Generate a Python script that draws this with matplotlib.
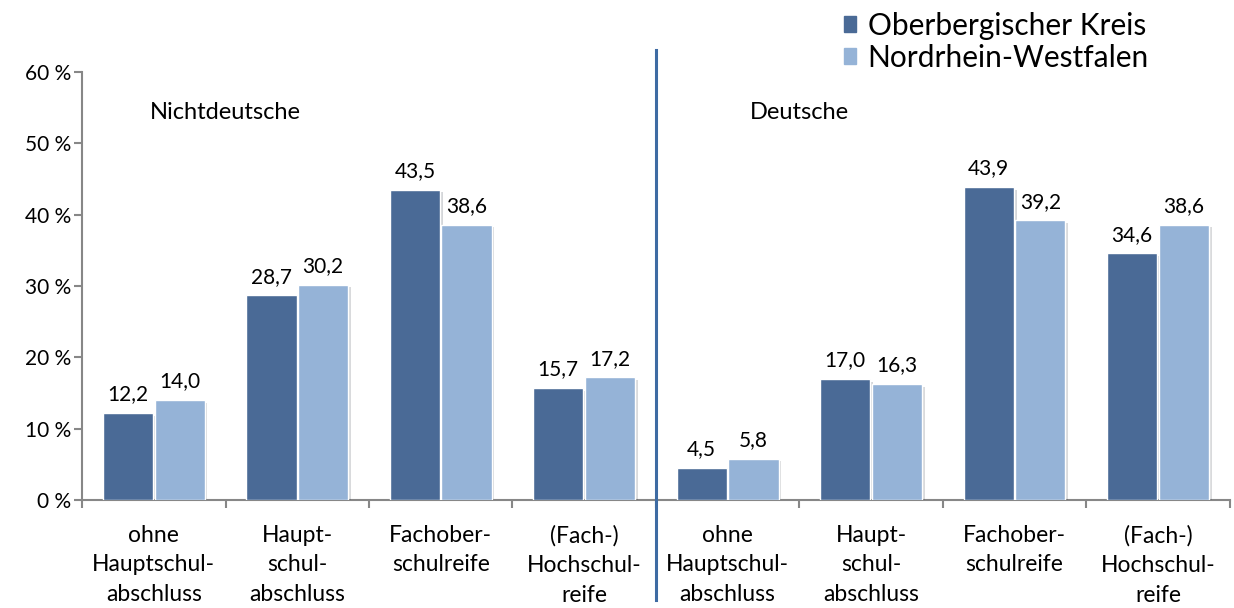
import numpy as np
import matplotlib
matplotlib.use("Agg")
import matplotlib.pyplot as plt
import matplotlib.patheffects as pe
from matplotlib.patches import Patch

plt.rcParams['font.family'] = ['Lato', 'DejaVu Sans']

# Daten
kategorien = ["ohne\nHauptschul-\nabschluss", "Haupt-\nschul-\nabschluss",
              "Fachober-\nschulreife", "(Fach-)\nHochschul-\nreife"] * 2
oberberg = [12.2, 28.7, 43.5, 15.7, 4.5, 17.0, 43.9, 34.6]
nrw = [14.0, 30.2, 38.6, 17.2, 5.8, 16.3, 39.2, 38.6]
serien = ["Oberbergischer Kreis", "Nordrhein-Westfalen"]
gruppen = ["Nichtdeutsche", "Deutsche"]
yticks = [0, 10, 20, 30, 40, 50, 60]

dunkel = "#4a6a96"
hell = "#95b3d7"
grau = "#878787"

fig = plt.figure(figsize=(12.34, 6.08), dpi=100)
ax = fig.add_axes([0.0665, 0.1776, 0.93, 0.704])

x = np.arange(len(kategorien))
w = 0.35
schatten = [pe.SimplePatchShadow(offset=(2, -2), alpha=0.18), pe.Normal()]
b1 = ax.bar(x - 0.18, oberberg, w, color=dunkel, edgecolor="white", linewidth=1, zorder=3)
b2 = ax.bar(x + 0.18, nrw, w, color=hell, edgecolor="white", linewidth=1, zorder=3)
for b in list(b1) + list(b2):
    b.set_path_effects(schatten)

for xi, v in zip(x - 0.18, oberberg):
    ax.text(xi, v + 1.2, f"{v:.1f}".replace(".", ","), ha="center", va="bottom", fontsize=15)
for xi, v in zip(x + 0.18, nrw):
    ax.text(xi, v + 1.2, f"{v:.1f}".replace(".", ","), ha="center", va="bottom", fontsize=15)

ax.set_xlim(-0.5, len(kategorien) - 0.5)
ax.set_ylim(0, 60)
ax.set_yticks(yticks)
ax.set_yticklabels([f"{t} %" for t in yticks], fontsize=15)
ax.set_xticks(np.arange(len(kategorien) + 1) - 0.5)
ax.set_xticklabels([])
ax.tick_params(axis="both", direction="out", length=6, color=grau, width=1.5)
ax.tick_params(axis="y", pad=2)

for i, k in enumerate(kategorien):
    ax.text(i, -3.5, k, ha="center", va="top", fontsize=16.5, linespacing=1.5)

for s in ["top", "right"]:
    ax.spines[s].set_visible(False)
for s in ["left", "bottom"]:
    ax.spines[s].set_color(grau)
    ax.spines[s].set_linewidth(1.5)

# Trennlinie
ax.plot([3.5, 3.5], [63.1, -14.0], color="#3e6ba3", linewidth=2.2, clip_on=False, zorder=4)

ax.text(0.5, 54.3, gruppen[0], ha="center", va="center", fontsize=17)
ax.text(4.5, 54.3, gruppen[1], ha="center", va="center", fontsize=17)

handles = [Patch(color=dunkel, label=serien[0]), Patch(color=hell, label=serien[1])]
fig.legend(handles=handles, loc="upper left", bbox_to_anchor=(0.674, 1.0), frameon=False,
           fontsize=21.5, handlelength=0.4, handleheight=0.45, handletextpad=0.4,
           labelspacing=0.12, borderaxespad=0)

fig.savefig("out.png", dpi=100)
